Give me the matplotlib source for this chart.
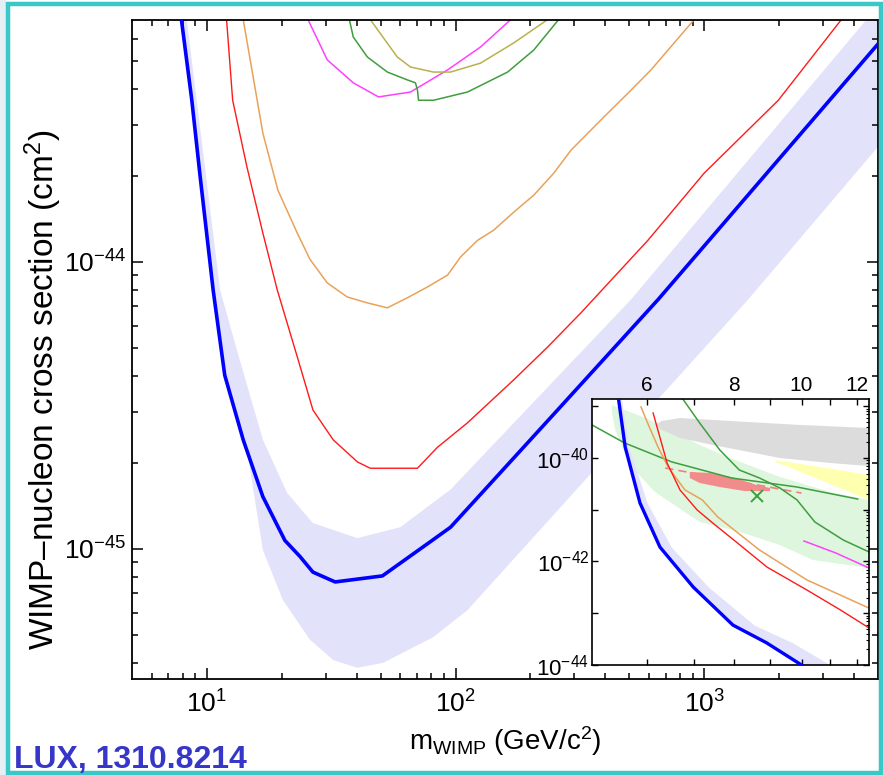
import numpy as np
import matplotlib
matplotlib.use("Agg")
import matplotlib.pyplot as plt
from matplotlib.patches import Rectangle
from matplotlib.ticker import NullFormatter, NullLocator

plt.rcParams['font.family'] = ['Liberation Sans', 'DejaVu Sans']
plt.rcParams['mathtext.fontset'] = 'custom'
plt.rcParams['mathtext.rm'] = 'Liberation Sans'
plt.rcParams['mathtext.it'] = 'Liberation Sans:italic'
plt.rcParams['mathtext.bf'] = 'Liberation Sans:bold'

# ---- main panel: 90% CL limits (mass in GeV, cross section in cm^2) ----
lux_m = [7.9, 8.7, 9.4, 10.6, 11.8, 14.0, 16.8, 20.6, 23.7, 26.7, 32.8, 50.8, 79.3, 95.5, 253, 653, 5000]
lux_sigma = [7.0e-44, 3.66e-44, 1.98e-44, 7.98e-45, 4.03e-45, 2.4e-45, 1.52e-45, 1.07e-45, 9.4e-46,
             8.3e-46, 7.67e-46, 8.05e-46, 1.06e-45, 1.19e-45, 3.0e-45, 7.4e-45, 5.75e-44]

# expected sensitivity band (upper / lower edge)
band_hi_m = [8.3, 11.3, 13.2, 16.8, 21.0, 26.7, 40.3, 60.0, 95.5, 508, 5000]
band_hi_sigma = [7.0e-44, 8.0e-45, 4.94e-45, 2.40e-45, 1.57e-45, 1.23e-45, 1.09e-45, 1.19e-45,
                 1.61e-45, 7.4e-45, 7.8e-44]
band_lo_m = [7.9, 11.5, 14.5, 16.8, 20.2, 26.0, 32.2, 40.3, 51.2, 81.5, 111.8, 1503, 5000]
band_lo_sigma = [7.0e-44, 4.4e-45, 2.21e-45, 9.9e-46, 6.64e-46, 4.82e-46, 4.10e-46, 3.85e-46,
                 4.01e-46, 4.93e-46, 6.12e-46, 7.4e-45, 2.52e-44]

red_m = [12.0, 12.7, 14.5, 16.8, 19.2, 23.1, 26.7, 32.2, 40.3, 45.4, 70.3, 84.6, 111.7, 171.3,
         235, 319, 594, 1000, 1986, 3565]
red_sigma = [7.0e-44, 3.66e-44, 2.14e-44, 1.26e-44, 7.98e-45, 4.67e-45, 3.05e-45, 2.40e-45, 2.01e-45,
             1.91e-45, 1.91e-45, 2.26e-45, 2.75e-45, 3.88e-45, 5.06e-45, 6.64e-45, 1.19e-44, 2.04e-44,
             3.66e-44, 7.0e-44]

orange_m = [14.0, 16.8, 19.3, 23.1, 26.0, 30.5, 36.7, 44.2, 53.2, 64.0, 77.1, 92.9, 104.7, 122.7,
            142.3, 171.3, 206.5, 248.5, 291, 395, 508, 611, 716, 912]
orange_sigma = [7.0e-44, 2.81e-44, 1.78e-44, 1.26e-44, 1.02e-44, 8.45e-45, 7.55e-45, 7.2e-45, 6.92e-45,
                7.5e-45, 8.18e-45, 9.0e-45, 1.04e-44, 1.19e-44, 1.29e-44, 1.49e-44, 1.71e-44, 2.04e-44,
                2.45e-44, 3.2e-44, 3.97e-44, 4.67e-44, 5.48e-44, 7.0e-44]

magenta_m = [25.5, 30.5, 38.8, 49.0, 65.9, 92.9, 126, 167]
magenta_sigma = [7.0e-44, 5.06e-44, 4.21e-44, 3.76e-44, 3.91e-44, 4.67e-44, 5.61e-44, 7.0e-44]

olive_m = [45.4, 58.3, 65.9, 81.5, 95.5, 126, 171, 235]
olive_sigma = [7.0e-44, 5.18e-44, 4.78e-44, 4.59e-44, 4.59e-44, 4.93e-44, 5.79e-44, 7.0e-44]

green_m = [37.4, 38.8, 44.2, 53.2, 64.0, 69.0, 70.3, 71.0, 81.5, 111.7, 162, 206.5, 260]
green_sigma = [7.0e-44, 6.08e-44, 5.18e-44, 4.59e-44, 4.31e-44, 4.21e-44, 3.97e-44, 3.66e-44,
               3.66e-44, 3.91e-44, 4.59e-44, 5.48e-44, 7.0e-44]

main_xticks = [10, 100, 1000]
main_yticks = [1e-45, 1e-44]

# ---- inset: low-mass region ----
in_lux_m = [5.45, 5.58, 5.86, 6.26, 6.99, 7.97, 8.9, 10.0]
in_lux_sigma = [1.6e-39, 1.63e-40, 1.35e-41, 1.9e-42, 3.2e-43, 5.9e-44, 2.7e-44, 1.0e-44]
in_band_hi_m = [5.5, 5.65, 6.0, 6.5, 7.35, 8.55, 9.7, 11.0]

in_red_m = [6.12, 6.41, 6.69, 7.08, 7.46, 8.09, 8.92, 10.18, 11.37, 12.5]
in_red_sigma = [7.4e-40, 8.0e-41, 2.41e-41, 9.9e-42, 5.5e-42, 2.28e-42, 7.8e-43, 2.81e-43, 1.16e-43, 5.2e-44]

in_orange_m = [5.88, 6.01, 6.22, 6.43, 6.80, 7.20, 7.58, 8.70, 10.18, 12.5]
in_orange_sigma = [9.7e-40, 4.74e-40, 1.63e-40, 6.7e-41, 2.41e-41, 1.55e-41, 7.25e-42, 1.67e-42,
                   4.4e-43, 1.26e-43]

in_green1_m = [5.0, 5.57, 6.51, 7.94, 9.85, 12.04]
in_green1_sigma = [4.35e-40, 1.95e-40, 8.4e-41, 4.1e-41, 2.75e-41, 1.61e-41]

in_green2_m = [6.7, 7.14, 7.63, 8.14, 8.70, 9.31, 9.85, 10.45, 11.48, 12.5]
in_green2_sigma = [1.6e-39, 4.74e-40, 1.43e-40, 5.86e-41, 4.11e-41, 2.63e-41, 1.55e-41, 5.8e-42,
                   2.6e-42, 1.53e-42]

in_magenta_m = [10.08, 11.2, 12.5]
in_magenta_sigma = [2.49e-42, 1.46e-42, 7.5e-43]

# allowed regions
cdms_region_m = [5.34, 6.06, 7.14, 7.89, 9.31, 11.0, 12.5, 12.5, 10.38, 9.31, 8.07, 7.14, 6.16,
                 5.67, 5.40, 5.34]
cdms_region_sigma = [1.06e-39, 5.42e-40, 1.78e-40, 1.0e-40, 4.3e-41, 2.2e-41, 1.54e-41, 7.5e-43,
                     1.07e-42, 2.08e-42, 3.9e-42, 5.8e-42, 2.2e-41, 7.3e-41, 3.47e-40, 7.7e-40]
dama_region_m = [6.16, 6.30, 6.69, 7.89, 9.95, 12.5, 12.5, 11.0, 9.31, 7.46, 6.69, 6.30]
dama_region_sigma = [4.35e-40, 5.2e-40, 5.93e-40, 5.19e-40, 4.35e-40, 3.8e-40, 7.0e-41, 8.0e-41,
                     1.0e-40, 1.78e-40, 2.44e-40, 3.5e-40]
cresst_region_m = [9.16, 10.64, 12.5, 12.5, 10.64, 9.16]
cresst_region_sigma = [9.1e-41, 6.7e-41, 4.7e-41, 1.54e-41, 3.76e-41, 8.5e-41]
cogent_region_m = [6.91, 7.39, 8.03, 8.62, 9.01, 9.01, 8.28, 7.63, 7.14, 6.91]
cogent_region_sigma = [5.36e-41, 5.13e-41, 4.11e-41, 3.0e-41, 2.63e-41, 2.3e-41, 2.3e-41, 2.75e-41,
                       3.29e-41, 4.11e-41]
cogent_contour_m = [6.37, 10.0]
cogent_contour_sigma = [6.4e-41, 2.1e-41]
best_fit_m = [8.62]
best_fit_sigma = [1.85e-41]

inset_xticks = [6, 7, 8, 9, 10, 11, 12]
inset_xlabels = ['6', '', '8', '', '10', '', '12']
inset_yticks = [1e-44, 1e-43, 1e-42, 1e-41, 1e-40, 1e-39]
inset_ylabels = [r'$10^{-44}$', '', r'$10^{-42}$', '', r'$10^{-40}$', '']

BLUE = '#0000FF'
BAND = '#E2E2FA'
RED = '#FF1A1A'
ORANGE = '#E8A25A'
MAGENTA = '#FF40FF'
OLIVE = '#B8B24A'
GREEN = '#3E9E3E'
TEAL = '#38C8C8'

W, H = 883, 775
fig = plt.figure(figsize=(W / 100, H / 100), dpi=100)


def fig_box(x0, y0, x1, y1):
    # pixel box (top-left origin) -> figure-fraction rect
    return [x0 / W, 1 - y1 / H, (x1 - x0) / W, (y1 - y0) / H]


def log_minor(lo, hi):
    # 2..9 x 10^k ticks strictly inside (lo, hi)
    out = []
    for k in range(int(np.floor(np.log10(lo))), int(np.ceil(np.log10(hi))) + 1):
        for s in range(2, 10):
            v = s * 10.0 ** k
            if lo < v < hi:
                out.append(v)
    return out


ax = fig.add_axes(fig_box(132, 20, 878, 679))
ax.set_xscale('log')
ax.set_yscale('log')
xlo, xhi = 5, 5000
ylo, yhi = 3.52e-46, 6.97e-44
ax.set_xlim(xlo, xhi)
ax.set_ylim(ylo, yhi)

band_m = np.concatenate([band_hi_m, band_lo_m[::-1]])
band_s = np.concatenate([band_hi_sigma, band_lo_sigma[::-1]])
ax.fill(band_m, band_s, color=BAND, lw=0, zorder=1)

ax.plot(magenta_m, magenta_sigma, color=MAGENTA, lw=1.1, zorder=2)
ax.plot(olive_m, olive_sigma, color=OLIVE, lw=1.1, zorder=2)
ax.plot(green_m, green_sigma, color=GREEN, lw=1.1, zorder=2)
ax.plot(orange_m, orange_sigma, color=ORANGE, lw=1.1, zorder=2)
ax.plot(red_m, red_sigma, color=RED, lw=1.0, zorder=2)
ax.plot(lux_m, lux_sigma, color=BLUE, lw=2.6, zorder=3, solid_joinstyle='round')

ax.set_xticks(main_xticks)
ax.set_xticklabels([r'$10^{%d}$' % round(np.log10(v)) for v in main_xticks])
ax.set_xticks(log_minor(xlo, xhi), minor=True)
ax.set_yticks(main_yticks)
ax.set_yticklabels([r'$10^{%d}$' % round(np.log10(v)) for v in main_yticks])
ax.set_yticks(log_minor(ylo, yhi), minor=True)
ax.xaxis.set_minor_formatter(NullFormatter())
ax.yaxis.set_minor_formatter(NullFormatter())

ax.tick_params(which='both', direction='in', top=True, right=True, labelsize=19, width=1.1)
ax.tick_params(which='major', length=8)
ax.tick_params(which='minor', length=4.5)
ax.tick_params(axis='x', pad=8)
ax.tick_params(axis='y', pad=4)
for s in ax.spines.values():
    s.set_linewidth(1.3)

fig.text(505 / W, 1 - 741 / H, r'$\mathrm{m_{WIMP}}$ (GeV/c$^{2}$)', ha='center', va='center',
         fontsize=20)
fig.text(43 / W, 1 - 390 / H, 'WIMP\u2013nucleon cross section (cm$^{2}$)', rotation=90,
         ha='center', va='center', fontsize=24)

# ---- inset ----
axi = fig.add_axes(fig_box(592, 399, 869, 665))
axi.set_xscale('log')
axi.set_yscale('log')
axi.set_xlim(5, 12.5)
axi.set_ylim(1e-44, 1.38e-39)
axi.set_facecolor('white')

axi.fill(cdms_region_m, cdms_region_sigma, color='#DDF6DD', lw=0, zorder=1)
axi.fill(dama_region_m, dama_region_sigma, color='#DCDCDC', lw=0, zorder=1.1)
axi.fill(cresst_region_m, cresst_region_sigma, color='#FFFFB0', lw=0, zorder=1.2)
axi.fill_betweenx(in_lux_sigma, in_lux_m, in_band_hi_m, color=BAND, lw=0, zorder=1.3)
axi.plot(cogent_contour_m, cogent_contour_sigma, color='#F08080', lw=1.2, dashes=(5, 3), zorder=1.4)
axi.fill(cogent_region_m, cogent_region_sigma, color='#F28C8C', lw=0, zorder=1.5)

axi.plot(in_magenta_m, in_magenta_sigma, color=MAGENTA, lw=1.1, zorder=2)
axi.plot(in_green2_m, in_green2_sigma, color=GREEN, lw=1.1, zorder=2)
axi.plot(in_green1_m, in_green1_sigma, color=GREEN, lw=1.1, zorder=2)
axi.plot(in_orange_m, in_orange_sigma, color=ORANGE, lw=1.1, zorder=2)
axi.plot(in_red_m, in_red_sigma, color=RED, lw=1.0, zorder=2)
axi.plot(best_fit_m, best_fit_sigma, marker='x', color=GREEN, ms=8, mew=1.4, ls='none', zorder=2.5)
axi.plot(in_lux_m, in_lux_sigma, color=BLUE, lw=2.4, zorder=3, solid_joinstyle='round')

axi.xaxis.set_minor_locator(NullLocator())
axi.set_xticks(inset_xticks)
axi.set_xticklabels(inset_xlabels)
axi.tick_params(axis='x', which='both', direction='in', top=True, bottom=True,
                labeltop=True, labelbottom=False, labelsize=15, length=4, width=1, pad=3)

axi.set_yticks(inset_yticks)
axi.set_yticklabels(inset_ylabels)
axi.set_yticks(log_minor(1e-44, 1.38e-39), minor=True)
axi.yaxis.set_minor_formatter(NullFormatter())
axi.tick_params(axis='y', which='major', direction='in', left=True, right=True, labelsize=16,
                length=4, width=1, pad=2)
axi.tick_params(axis='y', which='minor', direction='in', left=False, right=True, length=2.5, width=0.8)
for s in axi.spines.values():
    s.set_linewidth(1.2)

fig.text(14 / W, 1 - 768 / H, 'LUX, 1310.8214', fontsize=23, fontweight='bold', color='#3636C8',
         ha='left', va='baseline')

# slide frame
fig.patches.append(Rectangle((0, 0), 6 / W, 1, transform=fig.transFigure, color='#E6EEF6', lw=0))
fig.patches.append(Rectangle((8 / W, 2.5 / H), (881 - 8) / W, (771 - 2.5) / H, transform=fig.transFigure,
                             fill=False, edgecolor=TEAL, lw=3.2))

fig.savefig('out.png', dpi=100)
